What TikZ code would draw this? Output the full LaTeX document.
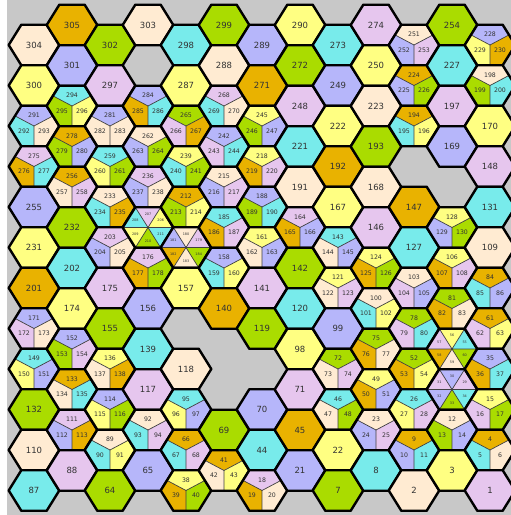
\documentclass[tikz,border=0pt]{standalone}
\usepackage{fontspec}
\setmainfont{DejaVu Sans}
\usepackage{xcolor}
\usepackage{tikz}
\definecolor{Peach}{HTML}{FFEBD2}
\definecolor{Lemon}{HTML}{FFFF82}
\definecolor{Lilac}{HTML}{B6B6FA}
\definecolor{Orchid}{HTML}{E6C6EE}
\definecolor{Aqua}{HTML}{78EBEB}
\definecolor{Lime}{HTML}{AADC00}
\definecolor{Amber}{HTML}{E9B200}
\definecolor{MapGray}{HTML}{C8C8C8}

\newcommand\hexat[2]{\pgfmathsetmacro\hx{34+38*(#1-1)}\pgfmathsetmacro\hy{45-20*mod(#1+1,2)+40.5*(#2-1)}}

\newcommand\hexone[4]{\hexat{#1}{#2}%
  \begin{scope}[shift={(\hx,\hy)}]
    \filldraw[rim, fill=#3] (25.3,0) -- (12.7,-20.25) -- (-12.7,-20.25) -- (-25.3,0) -- (-12.7,20.25) -- (12.7,20.25) -- cycle;
    \node[bigtag] (n#4) at (0,0) {#4};
  \end{scope}}

\newcommand\hexthree[6]{\hexat{#1}{#2}%
  \pgfmathtruncatemacro\nb{#3+1}\pgfmathtruncatemacro\nc{#3+2}%
  \begin{scope}[shift={(\hx,\hy)}]
    \fill[#4] (0,0) -- (-19,-10.1) -- (-12.7,-20.25) -- (12.7,-20.25) -- (19,-10.1) -- cycle;
    \fill[#5] (0,0) -- (0,20.25) -- (-12.7,20.25) -- (-25.3,0) -- (-19,-10.1) -- cycle;
    \fill[#6] (0,0) -- (19,-10.1) -- (25.3,0) -- (12.7,20.25) -- (0,20.25) -- cycle;
    \draw[seam] (-19,-10.1) -- (0,0) -- (19,-10.1) (0,0) -- (0,20.25);
    \draw[rim] (25.3,0) -- (12.7,-20.25) -- (-12.7,-20.25) -- (-25.3,0) -- (-12.7,20.25) -- (12.7,20.25) -- cycle;
    \node[subtag] (n#3) at (0,-10.5) {#3};
    \node[subtag] (n\nb) at (-10,5) {\nb};
    \node[subtag] (n\nc) at (10,5) {\nc};
  \end{scope}}

\newcommand\hexsix[9]{\hexat{#1}{#2}%
  \pgfmathtruncatemacro\nb{#3+1}\pgfmathtruncatemacro\nc{#3+2}%
  \pgfmathtruncatemacro\nd{#3+3}\pgfmathtruncatemacro\ne{#3+4}\pgfmathtruncatemacro\nf{#3+5}%
  \begin{scope}[shift={(\hx,\hy)}]
    \fill[#4] (0,0) -- (25.3,0) -- (12.7,-20.25) -- cycle;
    \fill[#5] (0,0) -- (12.7,-20.25) -- (-12.7,-20.25) -- cycle;
    \fill[#6] (0,0) -- (-12.7,-20.25) -- (-25.3,0) -- cycle;
    \fill[#7] (0,0) -- (-25.3,0) -- (-12.7,20.25) -- cycle;
    \fill[#8] (0,0) -- (-12.7,20.25) -- (12.7,20.25) -- cycle;
    \fill[#9] (0,0) -- (12.7,20.25) -- (25.3,0) -- cycle;
    \draw[seam] (-25.3,0) -- (25.3,0) (-12.7,-20.25) -- (12.7,20.25) (12.7,-20.25) -- (-12.7,20.25);
    \draw[rim] (25.3,0) -- (12.7,-20.25) -- (-12.7,-20.25) -- (-25.3,0) -- (-12.7,20.25) -- (12.7,20.25) -- cycle;
    \node[tinytag] (n#3) at (12.7,-6.75) {#3};
    \node[tinytag] (n\nb) at (0,-13.5) {\nb};
    \node[tinytag] (n\nc) at (-12.7,-6.75) {\nc};
    \node[tinytag] (n\nd) at (-12.7,6.75) {\nd};
    \node[tinytag] (n\ne) at (0,13.5) {\ne};
    \node[tinytag] (n\nf) at (12.7,6.75) {\nf};
  \end{scope}}

\begin{document}
\begin{tikzpicture}[
	x=1pt, y=-1pt,
	rim/.style={draw=black, line width=2.4pt, line join=round},
	seam/.style={draw=black!75, line width=0.7pt},
	bigtag/.style={inner sep=0pt, text=black!80, font=\fontsize{8.5}{9}\selectfont},
	subtag/.style={inner sep=0pt, text=black!80, font=\fontsize{6.2}{7}\selectfont},
	tinytag/.style={inner sep=0pt, text=black!80, font=\fontsize{3.4}{4}\selectfont}
]
\useasboundingbox (0,0) rectangle (511,515);
\fill[white] (0,0) rectangle (511,515);
\fill[MapGray] (7,0) rectangle (511,515);

\hexone{1}{1}{Peach}{304}
\hexone{1}{2}{Lemon}{300}
\hexthree{1}{3}{291}{Lilac}{Aqua}{Peach}
\hexthree{1}{4}{275}{Orchid}{Amber}{Aqua}
\hexone{1}{5}{Lilac}{255}
\hexone{1}{6}{Lemon}{231}
\hexone{1}{7}{Amber}{201}
\hexthree{1}{8}{171}{Lilac}{Orchid}{Peach}
\hexthree{1}{9}{149}{Aqua}{Lemon}{Lilac}
\hexone{1}{10}{Lime}{132}
\hexone{1}{11}{Peach}{110}
\hexone{1}{12}{Aqua}{87}

\hexone{2}{1}{Amber}{305}
\hexone{2}{2}{Lilac}{301}
\hexthree{2}{3}{294}{Aqua}{Lime}{Lemon}
\hexthree{2}{4}{278}{Amber}{Lime}{Lilac}
\hexthree{2}{5}{256}{Amber}{Peach}{Orchid}
\hexone{2}{6}{Lime}{232}
\hexone{2}{7}{Aqua}{202}
\hexone{2}{8}{Lemon}{174}
\hexthree{2}{9}{152}{Lilac}{Lime}{Orchid}
\hexthree{2}{10}{133}{Amber}{Peach}{Aqua}
\hexthree{2}{11}{111}{Orchid}{Lilac}{Amber}
\hexone{2}{12}{Orchid}{88}

\hexone{3}{1}{Lime}{302}
\hexone{3}{2}{Orchid}{297}
\hexthree{3}{3}{281}{Lilac}{Peach}{Peach}
\hexthree{3}{4}{259}{Aqua}{Lemon}{Lime}
\hexthree{3}{5}{233}{Peach}{Aqua}{Amber}
\hexthree{3}{6}{203}{Orchid}{Lilac}{Peach}
\hexone{3}{7}{Orchid}{175}
\hexone{3}{8}{Lime}{155}
\hexthree{3}{9}{136}{Lemon}{Peach}{Amber}
\hexthree{3}{10}{114}{Lilac}{Lemon}{Lime}
\hexthree{3}{11}{89}{Peach}{Aqua}{Lemon}
\hexone{3}{12}{Lime}{64}

\hexone{4}{1}{Peach}{303}
\hexthree{4}{3}{284}{Lilac}{Amber}{Aqua}
\hexthree{4}{4}{262}{Peach}{Lilac}{Lime}
\hexthree{4}{5}{236}{Orchid}{Lilac}{Peach}
\hexsix{4}{6}{206}{Lemon}{Orchid}{Aqua}{Lemon}{Lime}{Aqua}
\hexthree{4}{7}{176}{Orchid}{Amber}{Lime}
\hexone{4}{8}{Lilac}{156}
\hexone{4}{9}{Aqua}{139}
\hexone{4}{10}{Orchid}{117}
\hexthree{4}{11}{92}{Peach}{Aqua}{Orchid}
\hexone{4}{12}{Lilac}{65}

\hexone{5}{1}{Aqua}{298}
\hexone{5}{2}{Lemon}{287}
\hexthree{5}{3}{265}{Lime}{Orchid}{Amber}
\hexthree{5}{4}{239}{Lemon}{Aqua}{Lime}
\hexthree{5}{5}{212}{Amber}{Lime}{Lemon}
\hexsix{5}{6}{179}{Orchid}{Peach}{Lilac}{Amber}{Peach}{Lime}
\hexone{5}{7}{Lemon}{157}
\hexone{5}{9}{Peach}{118}
\hexthree{5}{10}{95}{Aqua}{Lemon}{Lilac}
\hexthree{5}{11}{66}{Amber}{Aqua}{Orchid}
\hexthree{5}{12}{38}{Lemon}{Amber}{Lime}

\hexone{6}{1}{Lime}{299}
\hexone{6}{2}{Peach}{288}
\hexthree{6}{3}{268}{Orchid}{Aqua}{Peach}
\hexthree{6}{4}{242}{Lilac}{Orchid}{Aqua}
\hexthree{6}{5}{215}{Peach}{Lilac}{Orchid}
\hexthree{6}{6}{185}{Aqua}{Amber}{Orchid}
\hexthree{6}{7}{158}{Lilac}{Aqua}{Lemon}
\hexone{6}{8}{Amber}{140}
\hexone{6}{11}{Lime}{69}
\hexthree{6}{12}{41}{Amber}{Peach}{Lemon}

\hexone{7}{1}{Lilac}{289}
\hexone{7}{2}{Amber}{271}
\hexthree{7}{3}{245}{Lemon}{Lime}{Lilac}
\hexthree{7}{4}{218}{Lemon}{Amber}{Orchid}
\hexthree{7}{5}{188}{Lilac}{Lime}{Aqua}
\hexthree{7}{6}{161}{Lemon}{Peach}{Lilac}
\hexone{7}{7}{Orchid}{141}
\hexone{7}{8}{Lime}{119}
\hexone{7}{10}{Lilac}{70}
\hexone{7}{11}{Aqua}{44}
\hexthree{7}{12}{18}{Orchid}{Amber}{Peach}

\hexone{8}{1}{Lemon}{290}
\hexone{8}{2}{Lime}{272}
\hexone{8}{3}{Orchid}{248}
\hexone{8}{4}{Aqua}{221}
\hexone{8}{5}{Peach}{191}
\hexthree{8}{6}{164}{Orchid}{Amber}{Lilac}
\hexone{8}{7}{Lime}{142}
\hexone{8}{8}{Aqua}{120}
\hexone{8}{9}{Lemon}{98}
\hexone{8}{10}{Orchid}{71}
\hexone{8}{11}{Amber}{45}
\hexone{8}{12}{Lilac}{21}

\hexone{9}{1}{Aqua}{273}
\hexone{9}{2}{Lilac}{249}
\hexone{9}{3}{Lemon}{222}
\hexone{9}{4}{Amber}{192}
\hexone{9}{5}{Lemon}{167}
\hexthree{9}{6}{143}{Aqua}{Peach}{Lilac}
\hexthree{9}{7}{121}{Lemon}{Peach}{Orchid}
\hexone{9}{8}{Lilac}{99}
\hexthree{9}{9}{72}{Lime}{Peach}{Orchid}
\hexthree{9}{10}{46}{Aqua}{Peach}{Lime}
\hexone{9}{11}{Lemon}{22}
\hexone{9}{12}{Lime}{7}

\hexone{10}{1}{Orchid}{274}
\hexone{10}{2}{Lemon}{250}
\hexone{10}{3}{Peach}{223}
\hexone{10}{4}{Lime}{193}
\hexone{10}{5}{Peach}{168}
\hexone{10}{6}{Orchid}{146}
\hexthree{10}{7}{124}{Lemon}{Amber}{Lime}
\hexthree{10}{8}{100}{Peach}{Aqua}{Lemon}
\hexthree{10}{9}{75}{Lime}{Amber}{Peach}
\hexthree{10}{10}{49}{Lemon}{Amber}{Lilac}
\hexthree{10}{11}{23}{Peach}{Lilac}{Orchid}
\hexone{10}{12}{Aqua}{8}

\hexthree{11}{1}{251}{Peach}{Lilac}{Orchid}
\hexthree{11}{2}{224}{Amber}{Lilac}{Lime}
\hexthree{11}{3}{194}{Amber}{Aqua}{Lemon}
\hexone{11}{5}{Amber}{147}
\hexone{11}{6}{Aqua}{127}
\hexthree{11}{7}{103}{Peach}{Orchid}{Lilac}
\hexthree{11}{8}{78}{Lime}{Orchid}{Aqua}
\hexthree{11}{9}{52}{Lime}{Amber}{Lemon}
\hexthree{11}{10}{26}{Aqua}{Lemon}{Orchid}
\hexthree{11}{11}{9}{Amber}{Lilac}{Aqua}
\hexone{11}{12}{Peach}{2}

\hexone{12}{1}{Lime}{254}
\hexone{12}{2}{Aqua}{227}
\hexone{12}{3}{Orchid}{197}
\hexone{12}{4}{Lilac}{169}
\hexthree{12}{6}{128}{Lemon}{Lilac}{Lime}
\hexthree{12}{7}{106}{Lemon}{Amber}{Orchid}
\hexthree{12}{8}{81}{Lime}{Amber}{Peach}
\hexsix{12}{9}{55}{Aqua}{Lemon}{Orchid}{Amber}{Peach}{Lime}
\hexsix{12}{10}{29}{Orchid}{Lilac}{Orchid}{Lilac}{Lime}{Aqua}
\hexthree{12}{11}{12}{Peach}{Lime}{Lilac}
\hexone{12}{12}{Lemon}{3}

\hexthree{13}{1}{228}{Lilac}{Lemon}{Amber}
\hexthree{13}{2}{198}{Peach}{Lime}{Aqua}
\hexone{13}{3}{Lemon}{170}
\hexone{13}{4}{Orchid}{148}
\hexone{13}{5}{Aqua}{131}
\hexone{13}{6}{Peach}{109}
\hexthree{13}{7}{84}{Amber}{Aqua}{Lilac}
\hexthree{13}{8}{61}{Amber}{Orchid}{Lemon}
\hexthree{13}{9}{35}{Lilac}{Amber}{Aqua}
\hexthree{13}{10}{15}{Lemon}{Orchid}{Lime}
\hexthree{13}{11}{4}{Amber}{Aqua}{Peach}
\hexone{13}{12}{Orchid}{1}
\end{tikzpicture}
\end{document}
